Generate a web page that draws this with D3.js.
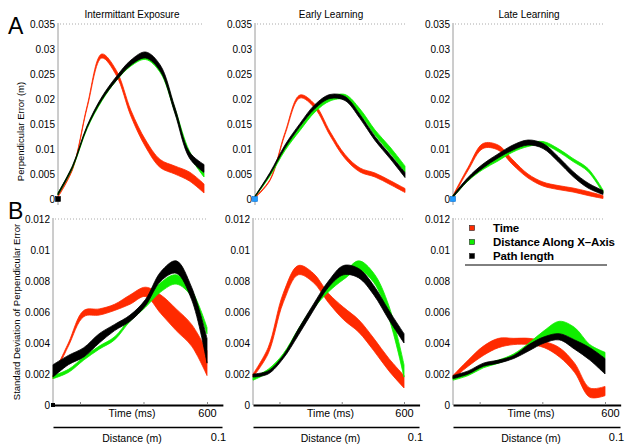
<!DOCTYPE html>
<html>
<head>
<meta charset="utf-8">
<script src="https://cdn.jsdelivr.net/npm/d3@7"></script>
<style>
  body { margin: 0; background: #fff; }
  svg { font-family: "Liberation Sans", Arial, sans-serif; }
</style>
</head>
<body>
<div id="chart"></div>
<script>
// normalised progress through the movement (0 = start, 1 = end)
const progress = [0, 0.1, 0.2, 0.3, 0.4, 0.5, 0.6, 0.7, 0.8, 0.9, 1.0];

const columns = ["Intermittant Exposure", "Early Learning", "Late Learning"];
const seriesNames = ["Time", "Distance Along X\u2013Axis", "Path length"];

// A: perpendicular error (m), mean and half band width
const errIE_time  = [0.0005, 0.0060, 0.0185, 0.0286, 0.0252, 0.0171, 0.0111, 0.0071, 0.0058, 0.0045, 0.0021];
const errIE_dist  = [0.0010, 0.0064, 0.0143, 0.0199, 0.0240, 0.0270, 0.0283, 0.0257, 0.0178, 0.0092, 0.0048];
const errIE_path  = [0.0010, 0.0065, 0.0145, 0.0201, 0.0241, 0.0273, 0.0288, 0.0262, 0.0178, 0.0088, 0.0061];
const errIE_timeW = [0.0001, 0.0001, 0.0002, 0.0004, 0.0005, 0.0006, 0.0007, 0.0008, 0.0008, 0.0009, 0.0009];
const errIE_distW = [0.0002, 0.0002, 0.0002, 0.0003, 0.0003, 0.0004, 0.0004, 0.0004, 0.0004, 0.0004, 0.0004];
const errIE_pathW = [0.0002, 0.0002, 0.0002, 0.0003, 0.0004, 0.0005, 0.0006, 0.0006, 0.0006, 0.0006, 0.0008];

const errEL_time  = [0.0003, 0.0038, 0.0131, 0.0205, 0.0185, 0.0131, 0.0085, 0.0058, 0.0048, 0.0033, 0.0017];
const errEL_dist  = [0.0005, 0.0048, 0.0100, 0.0140, 0.0178, 0.0200, 0.0204, 0.0175, 0.0133, 0.0098, 0.0060];
const errEL_path  = [0.0005, 0.0051, 0.0105, 0.0148, 0.0185, 0.0205, 0.0201, 0.0165, 0.0121, 0.0085, 0.0048];
const errEL_timeW = [0.0001, 0.0001, 0.0002, 0.0003, 0.0004, 0.0004, 0.0004, 0.0004, 0.0004, 0.0004, 0.0004];
const errEL_distW = [0.0001, 0.0002, 0.0003, 0.0003, 0.0004, 0.0004, 0.0005, 0.0005, 0.0005, 0.0006, 0.0006];
const errEL_pathW = [0.0001, 0.0002, 0.0003, 0.0003, 0.0004, 0.0004, 0.0004, 0.0004, 0.0004, 0.0004, 0.0005];

const errLL_time  = [0.0005, 0.0060, 0.0106, 0.0103, 0.0073, 0.0046, 0.0030, 0.0023, 0.0018, 0.0011, 0.0004];
const errLL_dist  = [0.0005, 0.0038, 0.0062, 0.0079, 0.0097, 0.0108, 0.0112, 0.0098, 0.0078, 0.0058, 0.0015];
const errLL_path  = [0.0005, 0.0040, 0.0066, 0.0086, 0.0103, 0.0113, 0.0106, 0.0080, 0.0050, 0.0027, 0.0013];
const errLL_timeW = [0.0002, 0.0003, 0.0005, 0.0005, 0.0005, 0.0004, 0.0004, 0.0004, 0.0004, 0.0004, 0.0003];
const errLL_distW = [0.0002, 0.0002, 0.0003, 0.0003, 0.0003, 0.0003, 0.0003, 0.0003, 0.0003, 0.0003, 0.0003];
const errLL_pathW = [0.0002, 0.0003, 0.0004, 0.0004, 0.0005, 0.0005, 0.0005, 0.0005, 0.0005, 0.0005, 0.0004];

// B: standard deviation of perpendicular error, mean and half band width
const sdIE_time  = [0.0018, 0.0039, 0.0059, 0.0060, 0.0063, 0.0068, 0.0073, 0.0065, 0.0055, 0.0045, 0.0027];
const sdIE_dist  = [0.0018, 0.0022, 0.0030, 0.0037, 0.0043, 0.0055, 0.0065, 0.0076, 0.0081, 0.0072, 0.0048];
const sdIE_path  = [0.0022, 0.0029, 0.0034, 0.0043, 0.0050, 0.0056, 0.0066, 0.0083, 0.0089, 0.0072, 0.0035];
const sdIE_timeW = [0.0001, 0.0001, 0.0002, 0.0002, 0.0002, 0.0003, 0.0003, 0.0006, 0.0007, 0.0007, 0.0008];
const sdIE_distW = [0.0001, 0.0001, 0.0001, 0.0001, 0.0001, 0.0001, 0.0002, 0.0003, 0.0003, 0.0002, 0.0002];
const sdIE_pathW = [0.0004, 0.0003, 0.0003, 0.0003, 0.0002, 0.0002, 0.0002, 0.0003, 0.0004, 0.0004, 0.0008];

const sdEL_time  = [0.0019, 0.0035, 0.0069, 0.0087, 0.0082, 0.0069, 0.0059, 0.0051, 0.0039, 0.0026, 0.0015];
const sdEL_dist  = [0.0017, 0.0022, 0.0032, 0.0048, 0.0063, 0.0075, 0.0083, 0.0090, 0.0082, 0.0060, 0.0022];
const sdEL_path  = [0.0019, 0.0021, 0.0031, 0.0047, 0.0063, 0.0078, 0.0087, 0.0085, 0.0074, 0.0058, 0.0043];
const sdEL_timeW = [0.0001, 0.0002, 0.0003, 0.0003, 0.0003, 0.0003, 0.0004, 0.0004, 0.0004, 0.0004, 0.0004];
const sdEL_distW = [0.0001, 0.0001, 0.0001, 0.0001, 0.0001, 0.0002, 0.0002, 0.0003, 0.0003, 0.0004, 0.0004];
const sdEL_pathW = [0.0001, 0.0001, 0.0001, 0.0002, 0.0002, 0.0002, 0.0003, 0.0003, 0.0003, 0.0003, 0.0003];

const sdLL_time  = [0.0018, 0.0027, 0.0035, 0.0040, 0.0041, 0.0041, 0.0039, 0.0034, 0.0024, 0.0008, 0.0009];
const sdLL_dist  = [0.0017, 0.0020, 0.0025, 0.0028, 0.0032, 0.0038, 0.0045, 0.0050, 0.0046, 0.0036, 0.0032];
const sdLL_path  = [0.0018, 0.0021, 0.0026, 0.0028, 0.0031, 0.0037, 0.0042, 0.0044, 0.0039, 0.0033, 0.0025];
const sdLL_timeW = [0.0001, 0.0002, 0.0003, 0.0003, 0.0002, 0.0002, 0.0002, 0.0003, 0.0003, 0.0003, 0.0003];
const sdLL_distW = [0.0001, 0.0001, 0.0001, 0.0001, 0.0001, 0.0002, 0.0003, 0.0004, 0.0004, 0.0003, 0.0002];
const sdLL_pathW = [0.0001, 0.0001, 0.0001, 0.0001, 0.0001, 0.0002, 0.0002, 0.0002, 0.0003, 0.0004, 0.0005];

const errTicks = [0, 0.005, 0.01, 0.015, 0.02, 0.025, 0.03, 0.035];
const sdTicks = [0, 0.002, 0.004, 0.006, 0.008, 0.01, 0.012];
const timeTicks = [200, 400, 600];

const colors = ["#ff2a00", "#10ee00", "#000000"];

const topData = [
  [[errIE_time, errIE_timeW], [errIE_dist, errIE_distW], [errIE_path, errIE_pathW]],
  [[errEL_time, errEL_timeW], [errEL_dist, errEL_distW], [errEL_path, errEL_pathW]],
  [[errLL_time, errLL_timeW], [errLL_dist, errLL_distW], [errLL_path, errLL_pathW]]
];
const botData = [
  [[sdIE_time, sdIE_timeW], [sdIE_dist, sdIE_distW], [sdIE_path, sdIE_pathW]],
  [[sdEL_time, sdEL_timeW], [sdEL_dist, sdEL_distW], [sdEL_path, sdEL_pathW]],
  [[sdLL_time, sdLL_timeW], [sdLL_dist, sdLL_distW], [sdLL_path, sdLL_pathW]]
];

const width = 626, height = 445;

// panel placement
const topX = [[58, 204], [255, 405], [453, 603]];
const botX = [[53, 207], [253, 404], [453, 605]];
const yTop = d3.scaleLinear().domain([0, 0.035]).range([199, 24]);
const yBot = d3.scaleLinear().domain([0, 0.012]).range([405, 219]);

const svg = d3.select("#chart").append("svg")
  .attr("width", width)
  .attr("height", height);

const fmt = d => String(+d.toFixed(3));

function drawBands(g, x, y, series) {
  const area = d3.area()
    .x(d => x(d.p))
    .y0(d => y(d.m - d.w))
    .y1(d => y(d.m + d.w))
    .curve(d3.curveCatmullRom);
  series.forEach(([mean, w], i) => {
    const pts = progress.map((p, k) => ({ p: p, m: mean[k], w: w[k] }));
    g.append("path")
      .datum(pts)
      .attr("d", area)
      .attr("fill", colors[i])
      .attr("stroke", colors[i])
      .attr("stroke-width", 0.8);
  });
}

function drawYAxis(g, x0, x1, y, ticks, below) {
  const ax = g.append("g")
    .attr("transform", `translate(${x0},0)`)
    .call(d3.axisLeft(y).tickValues(ticks).tickSize(0).tickPadding(3).tickFormat(fmt));
  ax.select(".domain").remove();
  ax.selectAll("text").style("font-size", "10px").attr("fill", "#000");
  const top = y(ticks[ticks.length - 1]);
  g.append("line")
    .attr("x1", x0).attr("x2", x0)
    .attr("y1", top - 1).attr("y2", y(0) + below)
    .attr("stroke", "#9a9a9a").attr("stroke-width", 1);
  g.append("line")
    .attr("x1", x0 + 2).attr("x2", x1)
    .attr("y1", top).attr("y2", top)
    .attr("stroke", "#aaa").attr("stroke-width", 1)
    .attr("stroke-dasharray", "1,2");
}

columns.forEach((title, c) => {
  // --- top row: perpendicular error
  const [tx0, tx1] = topX[c];
  const xt = d3.scaleLinear().domain([0, 1]).range([tx0, tx1]);
  const gt = svg.append("g");
  drawYAxis(gt, tx0, tx1, yTop, errTicks, 6);
  drawBands(gt, xt, yTop, topData[c]);
  gt.append("rect")
    .attr("x", tx0 - 2.5).attr("y", yTop(0) - 2.5)
    .attr("width", 5).attr("height", 5)
    .attr("fill", c === 0 ? "#000" : "#1e9bff")
    .attr("stroke", c === 0 ? "#000" : "#0a6fd0").attr("stroke-width", 0.6);

  svg.append("text")
    .attr("x", (tx0 + tx1) / 2 + 1)
    .attr("y", 17.5)
    .attr("text-anchor", "middle")
    .style("font-size", "10px")
    .text(title);

  // --- bottom row: standard deviation
  const [bx0, bx1] = botX[c];
  const xb = d3.scaleLinear().domain([0, 1]).range([bx0, bx1]);
  const gb = svg.append("g");
  drawYAxis(gb, bx0, bx1, yBot, sdTicks, 0);
  drawBands(gb, xb, yBot, botData[c]);
  if (c === 0) {
    gb.append("rect")
      .attr("x", bx0 - 2).attr("y", yBot(0) - 2)
      .attr("width", 4).attr("height", 4)
      .attr("fill", "#000");
  }

  // time axis
  const span = (bx1 - bx0) / 485;
  const timeScale = d3.scaleLinear().domain([115, 650]).range([bx0, bx0 + 535 * span]);
  const ta = gb.append("g")
    .attr("transform", `translate(0,${yBot(0)})`)
    .call(d3.axisBottom(timeScale).tickValues(timeTicks).tickSizeInner(-3).tickSizeOuter(0)
      .tickPadding(4).tickFormat(d => d === 600 ? "600" : ""));
  ta.select(".domain").attr("stroke", "#000").attr("stroke-width", 2);
  ta.selectAll(".tick line").attr("stroke", "#888");
  ta.selectAll("text").style("font-size", "11px").attr("fill", "#000").attr("dx", c === 2 ? "5" : "0");
  gb.append("text")
    .attr("x", (bx0 + bx1) / 2 + 2)
    .attr("y", yBot(0) + 12)
    .attr("text-anchor", "middle")
    .style("font-size", "10.5px")
    .text("Time (ms)");

  // distance axis
  const distScale = d3.scaleLinear().domain([0, 0.1]).range([bx0, bx1 + 15]);
  const da = gb.append("g")
    .attr("transform", `translate(0,427)`)
    .call(d3.axisBottom(distScale).tickValues([0.1]).tickSize(0).tickPadding(6).tickFormat(d => "0.1"));
  da.select(".domain").attr("stroke", "#000").attr("stroke-width", 1.5);
  da.selectAll("text").style("font-size", "11px").attr("fill", "#000").attr("dx", "-4");
  gb.append("text")
    .attr("x", (bx0 + bx1) / 2 + 2)
    .attr("y", 442)
    .attr("text-anchor", "middle")
    .style("font-size", "10.5px")
    .text("Distance (m)");
});

// row letters and axis titles
svg.append("text").attr("x", 8).attr("y", 34).style("font-size", "23px").text("A");
svg.append("text").attr("x", 8).attr("y", 219).style("font-size", "23px").text("B");

svg.append("text")
  .attr("transform", `translate(24,${(yTop(0) + yTop(0.035)) / 2 + 20}) rotate(-90)`)
  .attr("text-anchor", "middle")
  .style("font-size", "9.5px")
  .text("Perpendicular Error (m)");
svg.append("text")
  .attr("transform", `translate(20,${(yBot(0) + yBot(0.012)) / 2}) rotate(-90)`)
  .attr("text-anchor", "middle")
  .style("font-size", "9.5px")
  .text("Standard Deviation of Perpendicular Error");

// legend
const legend = svg.append("g").attr("transform", "translate(472,228)");
seriesNames.forEach((name, i) => {
  legend.append("rect")
    .attr("x", -2.5).attr("y", i * 14 - 2.5)
    .attr("width", 5).attr("height", 5)
    .attr("fill", colors[i])
    .attr("stroke", "#222").attr("stroke-width", 0.6);
  legend.append("text")
    .attr("x", 21).attr("y", i * 14 + 4)
    .style("font-size", "11.5px")
    .style("font-weight", "bold")
    .style("letter-spacing", "-0.15px")
    .text(name);
});
legend.append("line")
  .attr("x1", -7).attr("x2", 135)
  .attr("y1", 37).attr("y2", 37)
  .attr("stroke", "#000").attr("stroke-width", 1);
</script>
</body>
</html>
